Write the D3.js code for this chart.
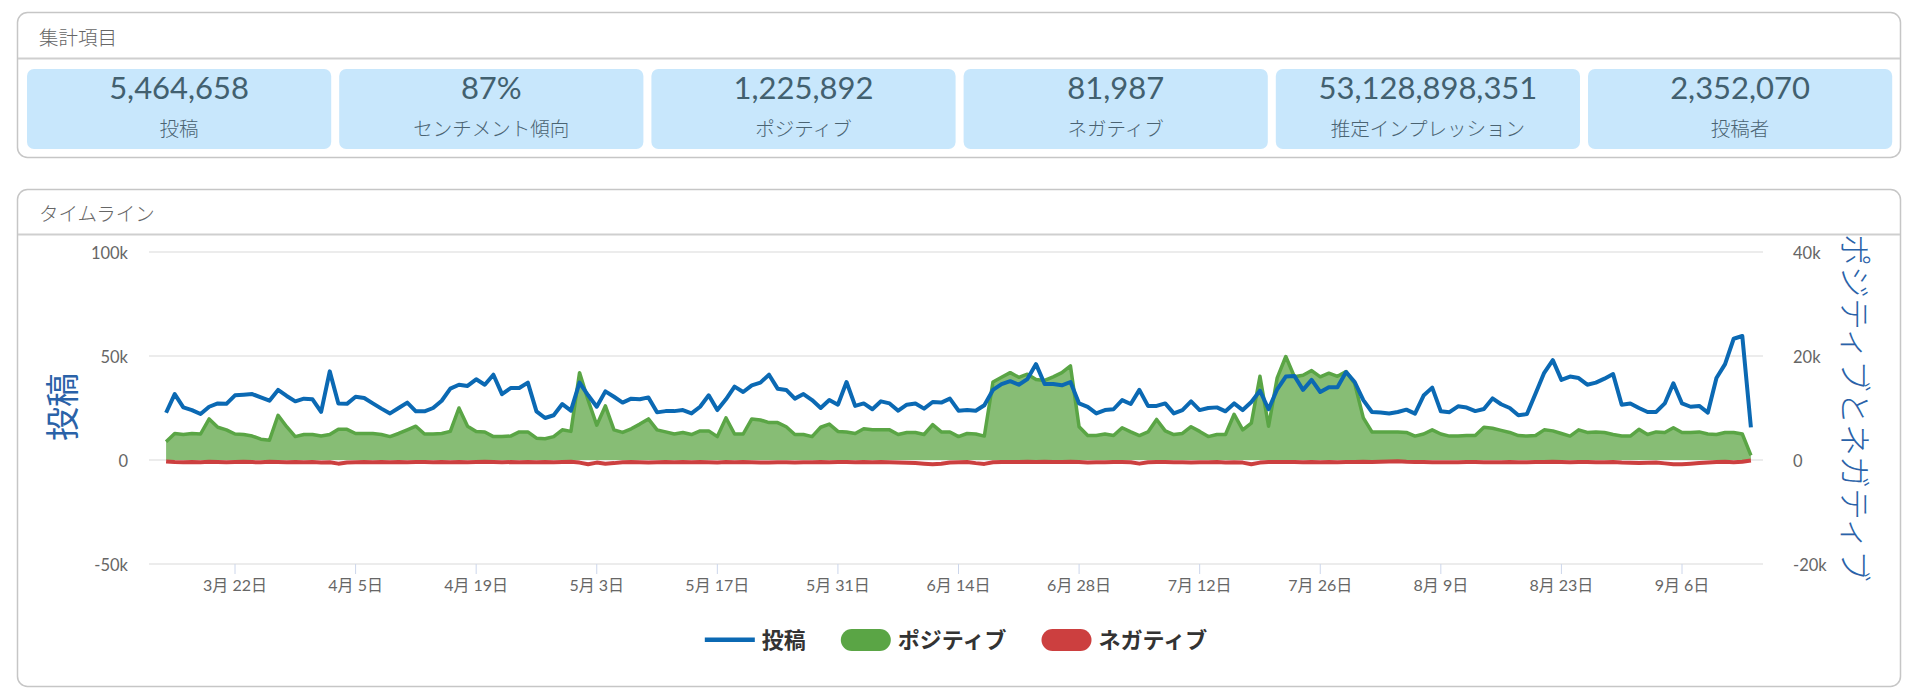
<!DOCTYPE html>
<html><head><meta charset="utf-8">
<script src="https://cdn.jsdelivr.net/npm/d3@7"></script>
<style>
html,body{margin:0;padding:0;background:#fff;}
svg{display:block;font-family:Lato,"Noto Sans CJK JP",sans-serif;}
</style></head><body>
<svg id="c" width="1920" height="698"></svg>
<script>
// ---------- data ----------
const summaryTitle = "集計項目";
const summaryValues = ["5,464,658","87%","1,225,892","81,987","53,128,898,351","2,352,070"];
const summaryLabels = ["投稿","センチメント傾向","ポジティブ","ネガティブ","推定インプレッション","投稿者"];
const timelineTitle = "タイムライン";
const startDate = "2021-03-14"; // one value per day
const postsK = [
22.7,31.7,25.3,24.0,22.1,25.6,27.2,27.0,31.1,31.4,
31.7,30.1,28.5,33.7,30.8,28.2,29.5,29.2,23.1,42.6,
27.2,27.0,30.4,29.8,27.2,24.7,22.4,25.0,27.6,23.4,
23.4,25.0,28.5,34.3,36.2,35.6,38.8,36.2,41.0,31.7,
34.6,34.6,37.2,23.4,20.2,21.5,26.9,23.7,37.2,31.1,
25.6,33.0,30.4,27.6,29.5,29.2,30.1,22.9,23.5,23.5,
24.0,22.4,25.6,31.1,24.0,29.2,35.3,32.7,35.9,37.2,
41.0,34.3,33.7,29.5,31.7,28.8,25.0,28.8,26.6,37.5,
26.0,27.2,24.4,28.2,27.2,23.7,26.6,27.2,24.7,27.9,
27.6,29.5,23.7,24.0,23.7,26.3,33.7,36.5,37.9,36.2,
38.9,46.1,36.5,36.5,35.9,37.5,27.2,25.5,22.4,24.0,
24.4,28.8,26.9,33.7,26.0,26.0,27.2,22.4,24.0,28.2,
24.0,25.0,25.3,23.4,27.2,24.0,27.9,33.3,24.4,34.0,
40.1,40.4,33.7,38.5,32.7,35.0,35.0,42.3,37.5,28.8,
23.1,22.8,22.4,23.1,24.2,22.3,31.0,34.8,23.4,23.0,
25.8,25.2,23.5,24.5,29.6,26.8,25.0,21.5,22.1,32.0,
41.9,48.0,38.5,40.1,39.4,36.2,37.2,39.1,41.3,26.6,
27.2,25.0,23.1,23.1,27.2,36.9,27.2,25.6,26.0,22.8,
39.4,46.1,58.3,59.6,15.7];
const positiveK = [
3.5,5.1,4.9,5.1,5.0,7.9,6.3,5.8,5.0,4.9,
4.6,4.0,3.8,8.6,6.4,4.5,4.9,4.9,4.6,4.9,
5.9,5.9,5.1,5.1,5.1,4.9,4.5,5.1,5.8,6.5,
5.0,5.0,5.1,5.5,10.0,6.5,5.5,5.4,4.5,4.5,
4.6,5.4,5.4,4.2,4.1,4.5,5.8,5.5,16.8,11.5,
6.7,10.4,5.8,5.3,6.0,6.9,7.9,5.8,5.4,5.0,
5.3,4.9,5.6,5.6,4.5,8.1,5.0,5.0,7.9,7.7,
7.2,7.2,6.4,4.9,4.9,4.5,6.3,6.9,5.5,5.4,
5.1,6.0,5.8,5.8,5.8,4.9,5.3,5.3,4.9,6.8,
5.4,5.4,4.5,5.1,5.0,4.6,15.0,15.9,16.8,15.9,
16.5,15.5,15.3,16.0,16.8,18.1,6.4,4.7,4.7,5.0,
4.7,6.2,5.4,4.7,5.4,7.8,5.6,4.9,5.1,6.4,
5.5,4.5,4.9,4.9,8.8,5.8,7.1,16.1,6.5,15.8,
19.9,16.0,16.3,17.2,16.0,16.7,16.1,17.0,14.7,8.1,
5.4,5.4,5.4,5.4,5.3,4.6,5.0,5.8,5.0,4.6,
4.6,4.7,4.7,6.3,6.1,5.7,5.3,4.7,4.6,4.7,
5.8,5.6,5.1,4.6,5.8,5.3,5.4,5.3,4.9,4.6,
4.6,5.9,4.9,5.4,5.3,6.2,5.3,5.3,5.4,5.0,
4.9,5.3,5.3,5.0,0.9];
const negativeK = [
-0.30,-0.40,-0.45,-0.40,-0.45,-0.35,-0.40,-0.45,-0.40,-0.35,
-0.40,-0.45,-0.35,-0.40,-0.45,-0.40,-0.45,-0.40,-0.50,-0.45,
-0.70,-0.50,-0.45,-0.40,-0.45,-0.40,-0.45,-0.40,-0.45,-0.40,
-0.40,-0.45,-0.40,-0.45,-0.40,-0.45,-0.40,-0.35,-0.40,-0.45,
-0.40,-0.45,-0.40,-0.45,-0.40,-0.45,-0.40,-0.35,-0.50,-0.80,
-0.50,-0.70,-0.60,-0.45,-0.40,-0.45,-0.50,-0.45,-0.40,-0.45,
-0.40,-0.45,-0.40,-0.45,-0.50,-0.40,-0.45,-0.40,-0.45,-0.50,
-0.50,-0.45,-0.45,-0.50,-0.45,-0.45,-0.40,-0.45,-0.40,-0.40,
-0.45,-0.40,-0.45,-0.40,-0.45,-0.50,-0.55,-0.60,-0.70,-0.80,
-0.70,-0.50,-0.45,-0.40,-0.60,-0.75,-0.45,-0.40,-0.40,-0.40,
-0.35,-0.40,-0.35,-0.40,-0.40,-0.35,-0.40,-0.50,-0.45,-0.45,
-0.40,-0.40,-0.45,-0.70,-0.45,-0.40,-0.40,-0.45,-0.45,-0.50,
-0.45,-0.45,-0.40,-0.50,-0.45,-0.50,-0.80,-0.50,-0.40,-0.40,
-0.40,-0.40,-0.45,-0.40,-0.45,-0.40,-0.45,-0.40,-0.40,-0.35,
-0.40,-0.35,-0.30,-0.25,-0.35,-0.40,-0.40,-0.45,-0.45,-0.45,
-0.45,-0.40,-0.40,-0.45,-0.45,-0.45,-0.40,-0.45,-0.45,-0.40,
-0.40,-0.35,-0.40,-0.45,-0.40,-0.40,-0.45,-0.45,-0.40,-0.50,
-0.55,-0.60,-0.55,-0.50,-0.65,-0.80,-0.80,-0.70,-0.60,-0.50,
-0.40,-0.35,-0.45,-0.35,-0.10];
const xTickDates = ["2021-03-22","2021-04-05","2021-04-19","2021-05-03","2021-05-17","2021-05-31","2021-06-14","2021-06-28","2021-07-12","2021-07-26","2021-08-09","2021-08-23","2021-09-06"];
const leftTicksK = [-50,0,50,100];
const rightTicksK = [-20,0,20,40];
const leftTitle = "投稿";
const rightTitle = "ポジティブとネガティブ";
const seriesNames = ["投稿","ポジティブ","ネガティブ"];
const seriesColors = ["#0b69b3","#5aa545","#cc3f3f"];

// ---------- layout ----------
const svg = d3.select("#c");
const parse = d3.utcParse("%Y-%m-%d");
const t0 = parse(startDate);
const dates = postsK.map((_, i) => d3.utcDay.offset(t0, i));
const rows = dates.map((d, i) => ({d, p: postsK[i], pos: positiveK[i], neg: negativeK[i]}));

const PL = 17, PR = 1901;
// summary panel
svg.append("rect").attr("x", PL+0.5).attr("y", 12.5).attr("width", PR-PL-1).attr("height", 145)
  .attr("rx", 10).attr("fill", "#fff").attr("stroke", "#c6c6c6").attr("stroke-width", 1.5);
svg.append("text").attr("x", 39).attr("y", 45).attr("font-size", 19.5).attr("font-weight", 300).attr("fill", "#666")
  .text(summaryTitle);
svg.append("line").attr("x1", PL+1).attr("x2", PR-1).attr("y1", 58.5).attr("y2", 58.5)
  .attr("stroke", "#cfcfcf").attr("stroke-width", 2);
const cardW = 304.2, cardGap = 8, cardX0 = 27;
const cards = svg.append("g").selectAll("g").data(summaryValues).join("g")
  .attr("transform", (d, i) => `translate(${cardX0 + i*(cardW+cardGap)},69)`);
cards.append("rect").attr("width", cardW).attr("height", 80).attr("rx", 7).attr("fill", "#c8e7fc");
cards.append("text").attr("x", cardW/2).attr("y", 29.5).attr("text-anchor", "middle")
  .attr("font-size", 31).attr("font-weight", 400).attr("fill", "#42606f").text(d => d);
cards.append("text").attr("x", cardW/2).attr("y", 66.5).attr("text-anchor", "middle")
  .attr("font-size", 19.5).attr("font-weight", 300).attr("fill", "#4a6372").text((d, i) => summaryLabels[i]);

// timeline panel
svg.append("rect").attr("x", PL+0.5).attr("y", 189.5).attr("width", PR-PL-1).attr("height", 497)
  .attr("rx", 10).attr("fill", "#fff").attr("stroke", "#c6c6c6").attr("stroke-width", 1.5);
svg.append("text").attr("x", 39).attr("y", 221).attr("font-size", 19.5).attr("font-weight", 300).attr("fill", "#666")
  .text(timelineTitle);

const defs = svg.append("defs");
defs.append("clipPath").attr("id", "chartclip").append("rect")
  .attr("x", PL+1).attr("y", 236).attr("width", PR-PL-2).attr("height", 449);
const chart = svg.append("g").attr("clip-path", "url(#chartclip)");

const gx1 = 149, gx2 = 1763;
const x = d3.scaleUtc().domain([parse(xTickDates[0]), parse(xTickDates[xTickDates.length-1])]).range([235, 1682]);
const yL = d3.scaleLinear().domain([-50, 100]).range([564, 252]);
const yR = d3.scaleLinear().domain([-20, 40]).range([564, 252]);

// gridlines
chart.append("g").selectAll("line").data(leftTicksK).join("line")
  .attr("x1", gx1).attr("x2", gx2).attr("y1", d => yL(d)).attr("y2", d => yL(d))
  .attr("stroke", "#e6e6e6").attr("stroke-width", 1.5);
// left axis labels
chart.append("g").selectAll("text").data(leftTicksK).join("text")
  .attr("x", 128).attr("y", d => yL(d) + 7).attr("text-anchor", "end")
  .attr("font-size", 16.5).attr("fill", "#666").text(d => d === 0 ? "0" : d + "k");
// right axis labels
chart.append("g").selectAll("text").data(rightTicksK).join("text")
  .attr("x", 1793).attr("y", d => yR(d) + 7).attr("text-anchor", "start")
  .attr("font-size", 16.5).attr("fill", "#666").text(d => d === 0 ? "0" : d + "k");
// x axis ticks & labels
const xTicks = xTickDates.map(parse);
const fmt = d => `${d.getUTCMonth()+1}月 ${d.getUTCDate()}日`;
chart.append("g").selectAll("line").data(xTicks).join("line")
  .attr("x1", d => x(d)).attr("x2", d => x(d)).attr("y1", 564).attr("y2", 574)
  .attr("stroke", "#ccd6eb").attr("stroke-width", 1);
chart.append("g").selectAll("text").data(xTicks).join("text")
  .attr("x", d => x(d)).attr("y", 591).attr("text-anchor", "middle")
  .attr("font-size", 16).attr("fill", "#666").text(fmt);

// axis titles
chart.append("text").attr("transform", "translate(61,407) rotate(-90)")
  .attr("text-anchor", "middle").attr("dominant-baseline", "central")
  .attr("font-size", 34).attr("font-weight", 400).attr("fill", "#2a62a8").text(leftTitle);
chart.append("text").attr("transform", "translate(1855,408) rotate(90)")
  .attr("text-anchor", "middle").attr("dominant-baseline", "central")
  .attr("font-size", 32).attr("font-weight", 300).attr("fill", "#2a62a8").text(rightTitle);

// series
const area = d3.area().x(d => x(d.d)).y0(yR(0)).y1(d => yR(d.pos));
chart.append("path").datum(rows).attr("d", area).attr("fill", "#87bd75");
chart.append("path").datum(rows).attr("d", d3.line().x(d => x(d.d)).y(d => yR(d.pos)))
  .attr("fill", "none").attr("stroke", seriesColors[1]).attr("stroke-width", 3.5).attr("stroke-linejoin", "round");
chart.append("path").datum(rows).attr("d", d3.line().x(d => x(d.d)).y(d => yR(d.neg)))
  .attr("fill", "none").attr("stroke", seriesColors[2]).attr("stroke-width", 4).attr("stroke-linejoin", "round");
chart.append("path").datum(rows).attr("d", d3.line().x(d => x(d.d)).y(d => yL(d.p)))
  .attr("fill", "none").attr("stroke", seriesColors[0]).attr("stroke-width", 4).attr("stroke-linejoin", "round");

// header separator for timeline panel (drawn over)
svg.append("line").attr("x1", PL+1).attr("x2", PR-1).attr("y1", 234.5).attr("y2", 234.5)
  .attr("stroke", "#cfcfcf").attr("stroke-width", 2);

// legend
const lg = svg.append("g");
const items = lg.selectAll("g").data(seriesNames).join("g");
items.append("text").attr("class", "lt").attr("x", 57).attr("y", 648)
  .attr("font-size", 22).attr("font-weight", "bold").attr("fill", "#333").text(d => d);
items.each(function(d, i) {
  const g = d3.select(this);
  if (i === 0) {
    g.append("rect").attr("x", 0).attr("y", 637.5).attr("width", 50).attr("height", 4.5).attr("fill", seriesColors[0]);
  } else {
    g.append("rect").attr("x", 0).attr("y", 629).attr("width", 50).attr("height", 22).attr("rx", 11)
      .attr("fill", seriesColors[i]);
  }
});
let widths = [];
items.select("text").each(function() { widths.push(57 + this.getComputedTextLength()); });
const itemGap = 35;
const total = d3.sum(widths) + itemGap * (widths.length - 1);
let cx = (gx1 + gx2) / 2 - total / 2;
items.attr("transform", (d, i) => { const tx = cx; cx += widths[i] + itemGap; return `translate(${tx},0)`; });
</script>
</body></html>
